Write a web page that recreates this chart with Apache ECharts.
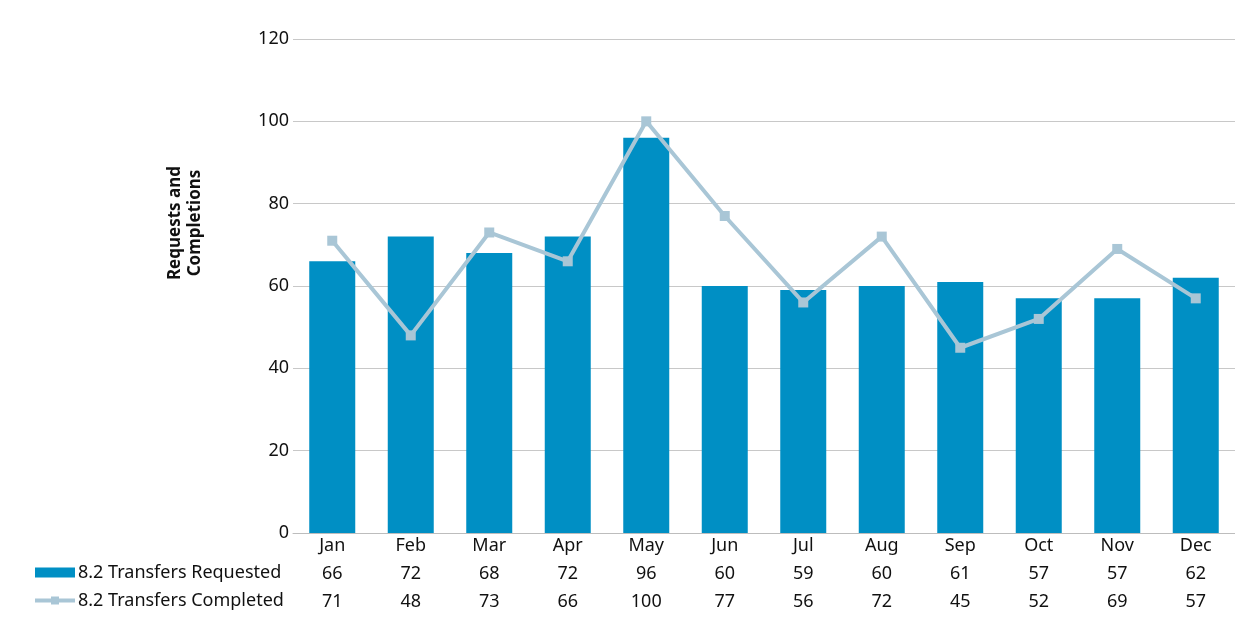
<!DOCTYPE html>
<html><head><meta charset="utf-8">
<script src="https://cdn.jsdelivr.net/npm/echarts@6/dist/echarts.min.js"></script>
<style>html,body{margin:0;padding:0;background:#fff}#c{width:1235px;height:633px}</style>
</head><body><div id="c"></div>
<script>
const months = ['Jan','Feb','Mar','Apr','May','Jun','Jul','Aug','Sep','Oct','Nov','Dec'];
const requested = [66,72,68,72,96,60,59,60,61,57,57,62];
const completed = [71,48,73,66,100,77,56,72,45,52,69,57];
const seriesNames = ['8.2 Transfers Requested','8.2 Transfers Completed'];
const yTicks = {min:0, max:120, interval:20};
const FONT = 'Noto Sans';
const FS = 18;
const chart = echarts.init(document.getElementById('c'));
const tableAxis = (offset, arr) => ({
  type:'category', data: months, position:'bottom', offset: offset, gridIndex:0,
  axisLine:{show:false}, axisTick:{show:false},
  axisLabel:{fontFamily:FONT, fontSize:FS, color:'#111', formatter:(v,i)=>String(arr[i])}
});
chart.setOption({
  animation:false,
  textStyle:{fontFamily:FONT},
  grid:{left:293, right:0, top:39, bottom:100},
  legend:{
    orient:'vertical', left:28, top:558, itemGap:9, itemWidth:40, itemHeight:10,
    textStyle:{fontFamily:FONT, fontSize:FS, color:'#111', lineHeight:19, padding:[0,0,0,-2]},
    lineStyle:{width:4},
    data:[{name:seriesNames[0], icon:'rect'},{name:seriesNames[1]}]
  },
  xAxis:[
    {type:'category', data:months, axisTick:{show:false},
     axisLine:{lineStyle:{color:'#bdbdbd', width:1}},
     axisLabel:{fontFamily:FONT, fontSize:FS, color:'#111', margin:4}},
    tableAxis(24, requested),
    tableAxis(52, completed)
  ],
  yAxis:{type:'value', min:yTicks.min, max:yTicks.max, interval:yTicks.interval,
    axisLine:{show:false}, axisTick:{show:false},
    splitLine:{lineStyle:{color:'#c8c8c8', width:1}},
    axisLabel:{fontFamily:FONT, fontSize:FS, color:'#111', margin:4}},
  graphic:[{type:'text', x:185, y:223, rotation:Math.PI/2, style:{text:'Requests and\nCompletions', fontFamily:FONT, fontSize:17, fontWeight:'bold', fill:'#111', align:'center', verticalAlign:'middle', lineHeight:20}}],
  series:[
    {name:seriesNames[0], type:'bar', data:requested, barWidth:46, itemStyle:{color:'#008FC4'}},
    {name:seriesNames[1], type:'line', data:completed, symbol:'rect', symbolSize:10,
     lineStyle:{color:'#A9C6D6', width:4}, itemStyle:{color:'#A9C6D6'}}
  ]
});
</script></body></html>
